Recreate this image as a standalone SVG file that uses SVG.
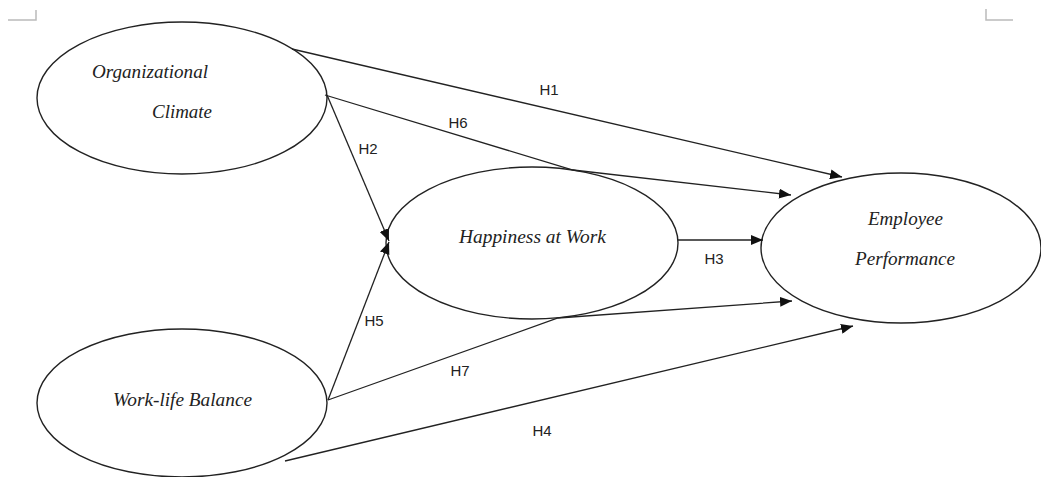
<svg xmlns="http://www.w3.org/2000/svg" width="1041" height="477" viewBox="0 0 1041 477">
<style>
.node{fill:#fff;stroke:#222;stroke-width:1.4}
.lbl{font-family:"Liberation Serif",serif;font-style:italic;font-size:19px;fill:#222}
.h{font-family:"Liberation Sans",Arial,sans-serif;font-size:15px;fill:#222;text-anchor:middle}
.c{fill:none;stroke:#222;stroke-width:1.3}
.corner{fill:none;stroke:#bbb;stroke-width:1.5}
</style>
<defs>
<marker id="arr" markerUnits="userSpaceOnUse" markerWidth="14" markerHeight="10" refX="12" refY="5" orient="auto">
<path d="M0,0 L12,5 L0,10 Z" fill="#111"/>
</marker>
</defs>
<rect width="1041" height="477" fill="#fff"/>
<path class="corner" d="M8,20 H36 V10"/>
<path class="corner" d="M986,9 V20 H1013"/>
<g id="oc"><ellipse class="node" cx="182" cy="98" rx="145" ry="76"/>
<text class="lbl" x="92" y="78" textLength="116" lengthAdjust="spacingAndGlyphs">Organizational</text>
<text class="lbl" x="152" y="118" textLength="60" lengthAdjust="spacingAndGlyphs">Climate</text></g>
<g id="wlb"><ellipse class="node" cx="182" cy="403" rx="145" ry="74"/>
<text class="lbl" x="113" y="406" textLength="139" lengthAdjust="spacingAndGlyphs">Work-life Balance</text></g>
<g id="haw"><ellipse class="node" cx="532" cy="243" rx="146" ry="76"/>
<text class="lbl" x="459" y="243" textLength="147" lengthAdjust="spacingAndGlyphs">Happiness at Work</text></g>
<g id="ep"><ellipse class="node" cx="901" cy="248" rx="140" ry="75"/>
<text class="lbl" x="868" y="225" textLength="75" lengthAdjust="spacingAndGlyphs">Employee</text>
<text class="lbl" x="855" y="265" textLength="100" lengthAdjust="spacingAndGlyphs">Performance</text></g>
<g id="connectors">
<path class="c" d="M292,49 L842,177" marker-end="url(#arr)"/>
<path class="c" d="M325,95 L573,170 L791,195" marker-end="url(#arr)"/>
<path class="c" d="M327,95 L389,241" marker-end="url(#arr)"/>
<path class="c" d="M328,400 L389,242" marker-end="url(#arr)"/>
<path class="c" d="M328,400 L558,318 L792,301" marker-end="url(#arr)"/>
<path class="c" d="M285,461 L853,326" marker-end="url(#arr)"/>
<path class="c" d="M678,240 L763,240" marker-end="url(#arr)"/>
<text class="h" x="549" y="95">H1</text>
<text class="h" x="458" y="128">H6</text>
<text class="h" x="368" y="154">H2</text>
<text class="h" x="714" y="264">H3</text>
<text class="h" x="374" y="326">H5</text>
<text class="h" x="460" y="376">H7</text>
<text class="h" x="542" y="436">H4</text>
</g>
</svg>
